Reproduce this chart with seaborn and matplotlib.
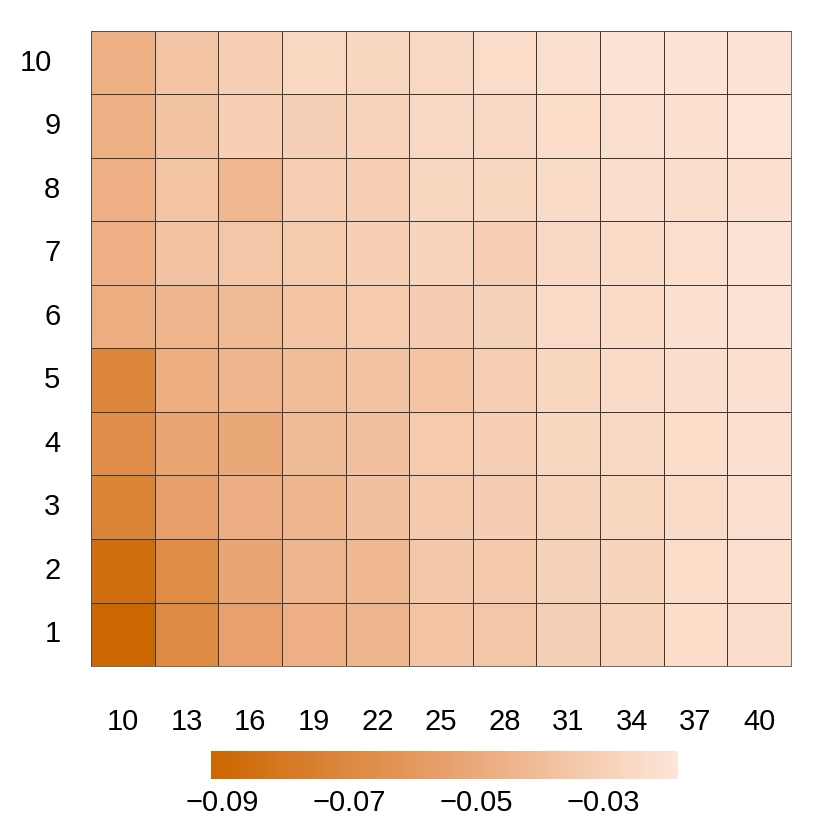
import numpy as np
import pandas as pd
import seaborn as sns
import matplotlib.pyplot as plt
import matplotlib.transforms as mtransforms
from matplotlib.colors import LinearSegmentedColormap

# column / row categories
cols = [10, 13, 16, 19, 22, 25, 28, 31, 34, 37, 40]
rows = [1, 2, 3, 4, 5, 6, 7, 8, 9, 10]

# values, one list per row (row 1 = bottom)
r1 = [-0.0917, -0.0689, -0.0550, -0.0471, -0.0434, -0.0361, -0.0350, -0.0297, -0.0282, -0.0234, -0.0229]
r2 = [-0.0866, -0.0676, -0.0523, -0.0444, -0.0424, -0.0345, -0.0334, -0.0287, -0.0277, -0.0234, -0.0224]
r3 = [-0.0727, -0.0562, -0.0476, -0.0434, -0.0381, -0.0334, -0.0314, -0.0282, -0.0266, -0.0240, -0.0219]
r4 = [-0.0670, -0.0528, -0.0508, -0.0403, -0.0381, -0.0329, -0.0308, -0.0271, -0.0256, -0.0234, -0.0214]
r5 = [-0.0714, -0.0481, -0.0439, -0.0397, -0.0366, -0.0356, -0.0308, -0.0266, -0.0240, -0.0229, -0.0214]
r6 = [-0.0481, -0.0439, -0.0413, -0.0356, -0.0329, -0.0314, -0.0287, -0.0245, -0.0240, -0.0214, -0.0203]
r7 = [-0.0471, -0.0366, -0.0350, -0.0324, -0.0303, -0.0277, -0.0303, -0.0250, -0.0240, -0.0224, -0.0203]
r8 = [-0.0471, -0.0361, -0.0429, -0.0308, -0.0308, -0.0271, -0.0271, -0.0240, -0.0229, -0.0229, -0.0208]
r9 = [-0.0466, -0.0366, -0.0303, -0.0297, -0.0277, -0.0256, -0.0250, -0.0234, -0.0219, -0.0214, -0.0188]
r10 = [-0.0466, -0.0356, -0.0303, -0.0261, -0.0271, -0.0256, -0.0234, -0.0219, -0.0203, -0.0203, -0.0197]

cbar_ticks = [-0.09, -0.07, -0.05, -0.03]
cbar_labels = ["\u22120.09", "\u22120.07", "\u22120.05", "\u22120.03"]

df = pd.DataFrame([r1, r2, r3, r4, r5, r6, r7, r8, r9, r10], index=rows, columns=cols)

sns.set_theme(style="white")
plt.rcParams['font.family'] = ['Liberation Sans', 'DejaVu Sans']

cmap = LinearSegmentedColormap.from_list(
    "orange_fade", ["#CC6600", "#E8A06C", "#FDE6D8"])

fig = plt.figure(figsize=(8.3, 8.3), dpi=100)
ax = fig.add_axes([91 / 830, 1 - 666 / 830, 700 / 830, 635 / 830])
cax = fig.add_axes([211 / 830, 1 - 779 / 830, 467 / 830, 28 / 830])

sns.heatmap(df, ax=ax, cmap=cmap, vmin=-0.0917, vmax=-0.0182,
            linewidths=0.6, linecolor="#3a3a3a",
            cbar_ax=cax, cbar_kws={"orientation": "horizontal", "ticks": cbar_ticks})
ax.invert_yaxis()

for s in ax.spines.values():
    s.set_visible(True)
    s.set_color("#555555")
    s.set_linewidth(0.6)

ax.set_xlabel("")
ax.set_ylabel("")
ax.tick_params(axis="x", length=0, pad=30, labelsize=21, labelcolor="black", labelrotation=0)
ax.tick_params(axis="y", length=0, pad=22, labelsize=21, labelcolor="black", labelrotation=0)
for lab in ax.get_yticklabels():
    lab.set_horizontalalignment("right")
    if lab.get_text() == "10":
        # the top label sits a little further left in the original
        lab.set_transform(lab.get_transform() +
                          mtransforms.ScaledTranslation(-8 / 100, 0, fig.dpi_scale_trans))

cbar = ax.collections[0].colorbar
cbar.outline.set_visible(False)
cbar.ax.xaxis.set_ticks_position("both")
cbar.ax.tick_params(axis="x", direction="in", color="white", length=4, width=0.8,
                    pad=7, labelsize=21, labelcolor="black", labeltop=False, labelbottom=True)
cbar.ax.set_xticklabels(cbar_labels)

fig.savefig("out.png", dpi=100)
